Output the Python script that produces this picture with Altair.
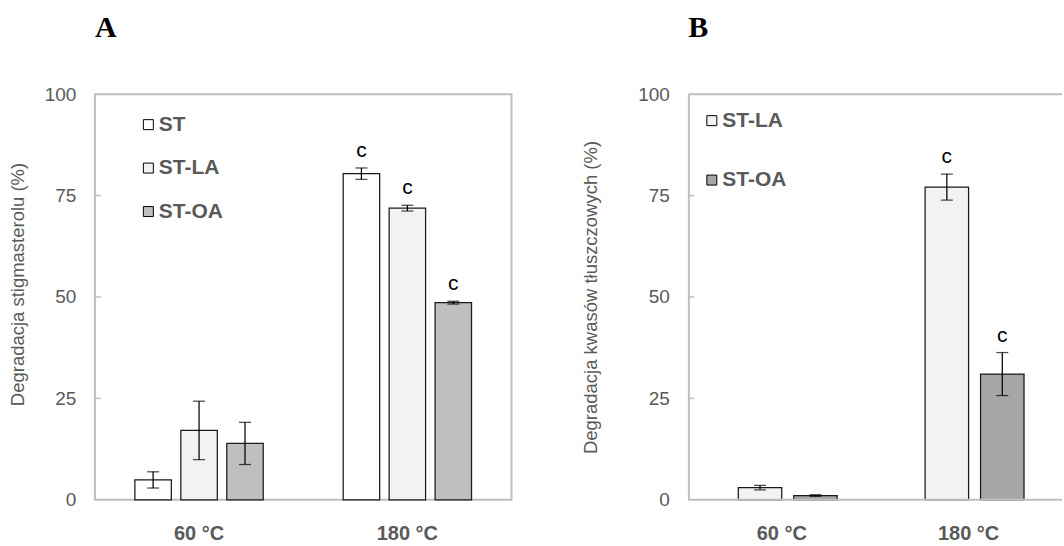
import altair as alt
import pandas as pd

# ---------------- data ----------------
temps = ["60 °C", "180 °C"]

a_series = ["ST", "ST-LA", "ST-OA"]
a_mean_60 = [4.9, 17.1, 13.9]
a_sd_60 = [2.0, 7.2, 5.2]
a_mean_180 = [80.4, 71.9, 48.6]
a_sd_180 = [1.4, 0.7, 0.35]
a_letters_60 = ["", "", ""]
a_letters_180 = ["c", "c", "c"]
a_colors = ["#FFFFFF", "#F2F2F2", "#BFBFBF"]

b_series = ["ST-LA", "ST-OA"]
b_mean_60 = [3.0, 1.05]
b_sd_60 = [0.55, 0.2]
b_mean_180 = [77.1, 31.0]
b_sd_180 = [3.2, 5.3]
b_letters_60 = ["", ""]
b_letters_180 = ["c", "c"]
b_colors = ["#F2F2F2", "#A6A6A6"]

y_ticks = [0, 25, 50, 75, 100]
inner_ticks = [25, 50, 75]

FONT = "Liberation Sans"
GRAY = "#595959"
FRAME = "#BFBFBF"


def make_df(series, m60, s60, l60, m180, s180, l180):
    rows = []
    for t, means, sds, lets in [(temps[0], m60, s60, l60), (temps[1], m180, s180, l180)]:
        for s, m, d, l in zip(series, means, sds, lets):
            rows.append({"temp": t, "series": s, "mean": m, "lo": m - d, "hi": m + d, "letter": l})
    return pd.DataFrame(rows)


def panel(df, series, colors, ytitle, letter, width, pi, po, align, lx, ly, rowpad, loff,
          tpad, title_y, framed):
    xscale = alt.Scale(domain=temps, paddingInner=0, paddingOuter=0)
    xenc = alt.X("temp:N", sort=temps, scale=xscale,
                 axis=alt.Axis(title=None, labelFont=FONT, labelFontSize=20, labelFontWeight="bold",
                               labelColor=GRAY, labelAngle=0, labelPadding=24, ticks=False,
                               domain=False))
    yaxis_kw = dict(values=y_ticks, grid=False, ticks=False, labelFont=FONT, labelFontSize=19,
                    labelColor=GRAY, labelPadding=19, domain=not framed, domainColor=FRAME,
                    domainWidth=2, title=ytitle, titleFont=FONT, titleFontSize=18.5,
                    titleFontWeight="normal", titleColor=GRAY, titlePadding=tpad)
    if title_y is not None:
        yaxis_kw["titleY"] = title_y
    yenc = alt.Y("mean:Q", scale=alt.Scale(domain=[0, 100], nice=False), axis=alt.Axis(**yaxis_kw))
    xoff = alt.XOffset("series:N", sort=series,
                       scale=alt.Scale(domain=series, paddingInner=pi, paddingOuter=po, align=align))
    color = alt.Color("series:N", sort=series, scale=alt.Scale(domain=series, range=colors),
                      legend=alt.Legend(title=None, orient="none", legendX=lx, legendY=ly,
                                        symbolType="square", symbolSize=100, symbolStrokeColor="#000000",
                                        symbolStrokeWidth=1, symbolOpacity=1, labelFont=FONT,
                                        labelFontSize=21, labelFontWeight="bold", labelColor=GRAY,
                                        labelOffset=loff, rowPadding=rowpad, padding=0))
    base = alt.Chart(df)
    bars = base.mark_bar(stroke="#1A1A1A", strokeWidth=1.25).encode(x=xenc, xOffset=xoff, y=yenc, color=color)
    err = base.mark_rule(color="#000000", strokeWidth=1.25).encode(
        x=alt.X("temp:N", sort=temps), xOffset=alt.XOffset("series:N", sort=series),
        y=alt.Y("lo:Q"), y2="hi:Q")
    cap_hi = base.mark_tick(color="#000000", thickness=1.25, size=12).encode(
        x=alt.X("temp:N", sort=temps), xOffset=alt.XOffset("series:N", sort=series), y=alt.Y("hi:Q"))
    cap_lo = base.mark_tick(color="#000000", thickness=1.25, size=12).encode(
        x=alt.X("temp:N", sort=temps), xOffset=alt.XOffset("series:N", sort=series), y=alt.Y("lo:Q"))
    txt = base.mark_text(font=FONT, fontSize=21, color="#000000", baseline="bottom", dy=-7).encode(
        x=alt.X("temp:N", sort=temps), xOffset=alt.XOffset("series:N", sort=series),
        y=alt.Y("hi:Q"), text="letter:N")
    ticks = alt.Chart(pd.DataFrame({"v": inner_ticks})).mark_rule(color=FRAME, strokeWidth=1.5).encode(
        y=alt.Y("v:Q"), x=alt.value(0), x2=alt.value(6))
    layers = [bars, err, cap_hi, cap_lo, txt, ticks]
    if not framed:
        top = alt.Chart(pd.DataFrame({"v": [100, 0]})).mark_rule(color=FRAME, strokeWidth=2).encode(
            y=alt.Y("v:Q"))
        layers.append(top)
    view = alt.ViewBackground(stroke=FRAME, strokeWidth=2) if framed else alt.ViewBackground(stroke="transparent")
    return alt.layer(*layers).properties(
        width=width, height=406, view=view,
        title=alt.TitleParams(letter, anchor="start", frame="group", font="Liberation Serif",
                              fontSize=30, fontWeight="bold", color="#000000", offset=18,
                              baseline="alphabetic"))


df_a = make_df(a_series, a_mean_60, a_sd_60, a_letters_60, a_mean_180, a_sd_180, a_letters_180)
df_b = make_df(b_series, b_mean_60, b_sd_60, b_letters_60, b_mean_180, b_sd_180, b_letters_180)

chart_a = panel(df_a, a_series, a_colors, "Degradacja stigmasterolu (%)", "A", 417,
                0.2065, 0.87, 0.5, 43, 20, 21.5, 0, 17, 190, True)
chart_b = panel(df_b, b_series, b_colors, "Degradacja kwasów tłuszczowych (%)", "B", 374,
                0.216, 0.793, 0.568, 13, 16, 37.5, 0, 37, None, False)

chart = alt.hconcat(chart_a, chart_b, spacing=68).resolve_scale(
    color="independent", x="independent", y="independent", xOffset="independent"
).resolve_legend(color="independent").properties(
    padding={"left": 7, "top": 12, "right": 0, "bottom": 0}
).configure(background="#FFFFFF")

chart.save("out.html", embed_options={"renderer": "svg", "actions": False})
